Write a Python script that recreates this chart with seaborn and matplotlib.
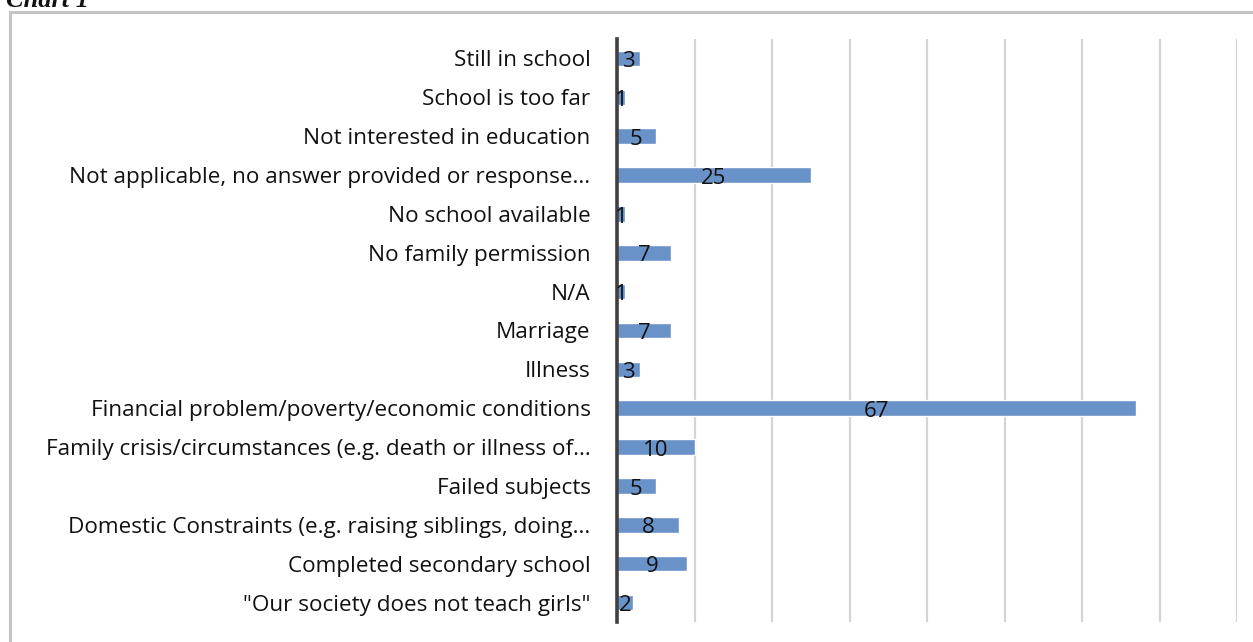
import matplotlib
matplotlib.use("Agg")
import matplotlib.pyplot as plt
import matplotlib.patches as mpatches
import seaborn as sns
import pandas as pd

# Reasons for leaving school (counts), listed top to bottom
reasons = [
    "Still in school",
    "School is too far",
    "Not interested in education",
    "Not applicable, no answer provided or response...",
    "No school available",
    "No family permission",
    "N/A",
    "Marriage",
    "Illness",
    "Financial problem/poverty/economic conditions",
    "Family crisis/circumstances (e.g. death or illness of...",
    "Failed subjects",
    "Domestic Constraints (e.g. raising siblings, doing...",
    "Completed secondary school",
    "\"Our society does not teach girls\"",
]
counts = [3, 1, 5, 25, 1, 7, 1, 7, 3, 67, 10, 5, 8, 9, 2]
x_ticks = list(range(0, 81, 10))

df = pd.DataFrame({"reason": reasons, "count": counts})

sns.set_theme(style="white")
plt.rcParams["font.family"] = ["Open Sans", "DejaVu Sans"]

W, H = 1253, 642
fig = plt.figure(figsize=(W / 100, H / 100), dpi=100)
ax = fig.add_axes([617 / W, 1 - 622 / H, (1237 - 617) / W, (622 - 39) / H])

sns.barplot(data=df, y="reason", x="count", orient="h", order=reasons,
            color="#6892c8", saturation=1, width=0.4, ax=ax, zorder=3)

ax.set_xlim(0, 80)
ax.set_xticks(x_ticks)
ax.set_xticklabels([])
ax.grid(axis="x", color="#d4d4d4", linewidth=1.6, zorder=0)
ax.grid(axis="y", visible=False)
ax.set_xlabel("")
ax.set_ylabel("")
for side in ["top", "right", "bottom"]:
    ax.spines[side].set_visible(False)
ax.spines["left"].set_color("#404040")
ax.spines["left"].set_linewidth(2.6)
ax.spines["left"].set_zorder(5)
ax.tick_params(axis="y", length=0, pad=19, labelsize=16.2, labelcolor="#111111")
ax.tick_params(axis="x", length=0)

# value labels centred on each bar
for i, v in enumerate(counts):
    ax.text(v / 2, i + 0.08, str(v), ha="center", va="center",
            fontsize=16, color="#111111", zorder=6)

# surrounding chart frame
frame = mpatches.Rectangle((10 / W, -0.05), 1.2, 1 - 12 / H + 0.05,
                           transform=fig.transFigure, fill=False,
                           edgecolor="#c4c4c4", linewidth=2.2, clip_on=False)
fig.patches.append(frame)

fig.text(6 / W, 1 - 7 / H, "Chart 1", fontsize=19, fontweight="bold",
         fontstyle="italic", family=["Liberation Serif", "DejaVu Serif"],
         ha="left", va="baseline", color="#111111")

fig.savefig("out.png", dpi=100)
